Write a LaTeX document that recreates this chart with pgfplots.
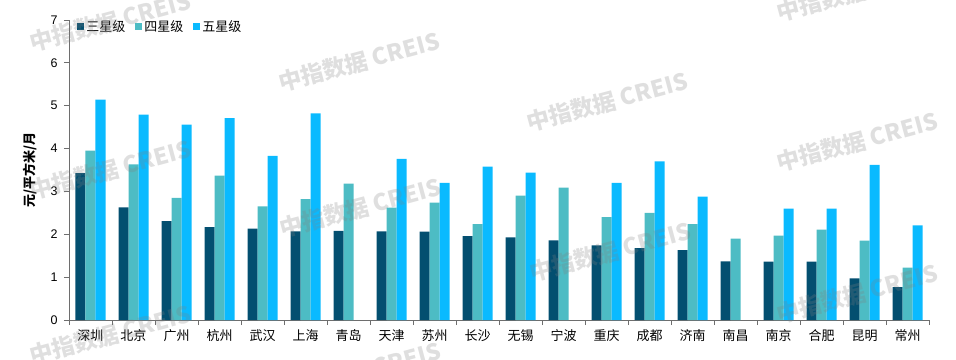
\documentclass[border=0pt]{standalone}
\usepackage{fontspec}
\setmainfont{Liberation Sans}
\newfontfamily\cjk{Noto Sans CJK SC}
\usepackage{pgfplots}
\pgfplotsset{compat=1.18}
\definecolor{cthree}{HTML}{034F70}
\definecolor{cfour}{HTML}{4DBCC4}
\definecolor{cfive}{HTML}{0ABAFF}
\definecolor{axgray}{HTML}{6E6E6E}
\begin{document}
\begin{tikzpicture}
\useasboundingbox (-69pt,-39pt) rectangle (887pt,320pt);
\begin{axis}[
  at={(0pt,0pt)}, anchor=south west,
  scale only axis, width=860pt, height=300pt,
  ybar=0pt, bar width=10pt,
  xmin=-0.5, xmax=19.5, ymin=0, ymax=7,
  axis x line*=bottom, axis y line*=left,
  axis line style={axgray, line width=0.8pt},
  xtick={0,...,19},
  xticklabels={深圳,北京,广州,杭州,武汉,上海,青岛,天津,苏州,长沙,无锡,宁波,重庆,成都,济南,南昌,南京,合肥,昆明,常州},
  minor xtick={-0.5,0.5,...,19.5},
  major x tick style={draw=none},
  minor x tick style={axgray, line width=0.8pt},
  minor tick length=5pt,
  ytick={0,...,7},
  y tick style={axgray, line width=0.8pt},
  major tick length=5pt,
  tick align=outside,
  x tick label style={font=\cjk\fontsize{13}{15}\selectfont, yshift=-1pt},
  y tick label style={font=\fontsize{12.5}{14}\selectfont, xshift=-3pt},
  /pgf/number format/assume math mode=true,
  ylabel={元/平方米/月},
  ylabel style={font=\cjk\bfseries\fontsize{13}{15}\selectfont, at={(axis description cs:-0.0453,0.5)}, anchor=center},
  legend style={at={(axis description cs:0.006,1.012)}, anchor=north west, draw=none, fill=none,
    font=\cjk\fontsize{13}{15}\selectfont, legend columns=-1,
    /tikz/every odd column/.append style={column sep=0pt},
    /tikz/every even column/.append style={column sep=8pt}},
  legend image code/.code={\fill[#1,draw=none] (0pt,-3.5pt) rectangle (7pt,3.5pt);},
]
\addplot[fill=cthree, draw=none] coordinates {
(0,3.43) (1,2.63) (2,2.31) (3,2.17) (4,2.13) (5,2.07) (6,2.08) (7,2.07) (8,2.06) (9,1.96)
(10,1.93) (11,1.86) (12,1.74) (13,1.68) (14,1.63) (15,1.37) (16,1.36) (17,1.36) (18,0.97) (19,0.77)};
\addplot[fill=cfour, draw=none] coordinates {
(0,3.95) (1,3.63) (2,2.85) (3,3.37) (4,2.65) (5,2.82) (6,3.18) (7,2.62) (8,2.74) (9,2.24)
(10,2.90) (11,3.09) (12,2.40) (13,2.50) (14,2.24) (15,1.90) (16,1.97) (17,2.11) (18,1.85) (19,1.22)};
\addplot[fill=cfive, draw=none] coordinates {
(0,5.14) (1,4.79) (2,4.56) (3,4.71) (4,3.83) (5,4.82) (7,3.76) (8,3.20) (9,3.58)
(10,3.44) (12,3.20) (13,3.70) (14,2.88) (16,2.60) (17,2.60) (18,3.62) (19,2.21)};
\legend{三星级,四星级,五星级}
\end{axis}
\begin{scope}[every node/.style={rotate=15, text=gray, opacity=0.25, font=\cjk\bfseries\fontsize{23}{27}\selectfont}]
\node at (41pt,298pt) {中指数据 CREIS};
\node at (290pt,258pt) {中指数据 CREIS};
\node at (538pt,218pt) {中指数据 CREIS};
\node at (788pt,178pt) {中指数据 CREIS};
\node at (788pt,328pt) {中指数据 CREIS};
\node at (41pt,150pt) {中指数据 CREIS};
\node at (291pt,112pt) {中指数据 CREIS};
\node at (541pt,68pt) {中指数据 CREIS};
\node at (788pt,26pt) {中指数据 CREIS};
\node at (41pt,-15pt) {中指数据 CREIS};
\node at (291pt,-52pt) {中指数据 CREIS};
\end{scope}
\end{tikzpicture}
\end{document}
